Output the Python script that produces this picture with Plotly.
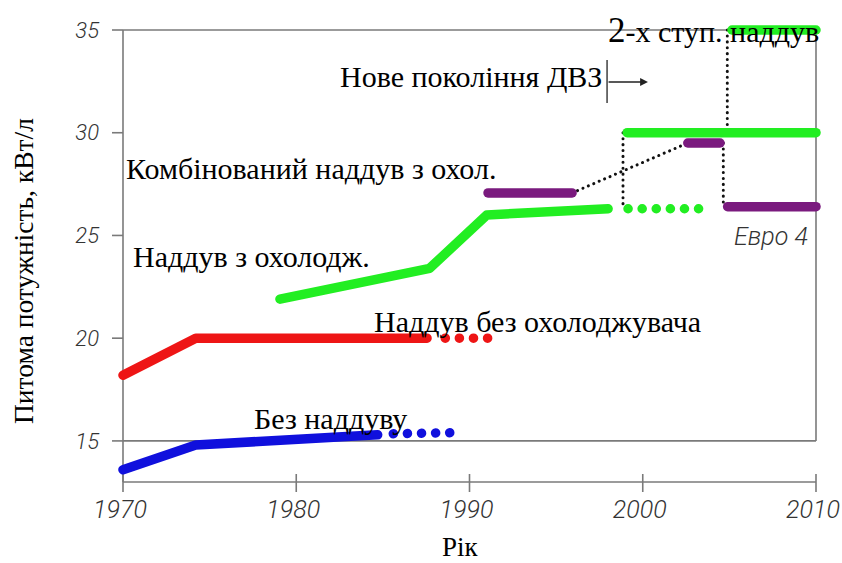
import plotly.graph_objects as go

# ---------------- data ----------------
year_ticks = [1970, 1980, 1990, 2000, 2010]
power_ticks = [15, 20, 25, 30, 35]

# Без наддуву (blue)
nat_x = [1970, 1974.2, 1984.7]
nat_y = [13.6, 14.8, 15.3]
nat_dot_x = [1985.6, 1989.2]
nat_dot_y = [15.35, 15.4]

# Наддув без охолоджувача (red)
tc_x = [1970, 1974.2, 1987.55]
tc_y = [18.2, 20.0, 20.0]
tc_dot_x = [1988.6, 1991.1]
tc_dot_y = [20.0, 20.0]

# Наддув з охолодж. (green)
ic_x = [1979.06, 1987.7, 1991.0, 1998.0]
ic_y = [21.9, 23.4, 26.0, 26.3]
ic_dot_x = [1999.15, 2003.95]
ic_dot_y = [26.3, 26.3]

# Нове покоління: green 30 level and 2-stage 35 level
new_x = [1999.1, 2010]
new_y = [30.0, 30.0]
two_x = [2005.15, 2010]
two_y = [35.0, 35.0]

# Комбінований наддув з охол. (purple)
comb1_x = [1991.07, 1995.92]
comb1_y = [27.07, 27.07]
comb2_x = [2002.6, 2004.46]
comb2_y = [29.5, 29.5]
euro_x = [2004.9, 2010]
euro_y = [26.4, 26.4]

# black dotted connectors
con1_x = [1995.92, 2002.6]
con1_y = [27.07, 29.5]
con2_x = [1998.86, 1998.86]
con2_y = [30.0, 26.3]
con3_x = [2004.65, 2004.65]
con3_y = [29.5, 26.4]
con4_x = [2004.88, 2004.88]
con4_y = [35.0, 30.0]

labels = ["Нове покоління ДВЗ", "Комбінований наддув з охол.", "Наддув з охолодж.",
          "Наддув без охолоджувача", "Без наддуву", "2-х ступ. наддув", "Евро 4"]

# ---------------- layout geometry ----------------
W, H = 842, 563
L, R, T, B = 100, 838, 16, 492           # plot area in pixels
PX1970, PX2010 = 123, 816
PY35, PY13 = 30, 482
sx = (PX2010 - PX1970) / 40.0
sy = (PY13 - PY35) / 22.0
xr = [1970 - (PX1970 - L) / sx, 2010 + (R - PX2010) / sx]
yr = [13 - (B - PY13) / sy, 35 + (PY35 - T) / sy]

GREEN = "#22ee22"
BLUE = "#1010dd"
RED = "#ee1515"
PURPLE = "#7a1a7e"
AXC = "#7a7a7a"
SERIF = "Liberation Serif, Times New Roman, serif"
TICKF = "Roboto, Liberation Sans, sans-serif"

LW = 9.5
DOT = "0.1px,14px"
BDOT = "0.1px,5.8px"

fig = go.Figure()


def add(x, y, color, width=LW, dash="solid"):
    fig.add_trace(go.Scatter(x=x, y=y, mode="lines",
                             line=dict(color=color, width=width, dash=dash),
                             hoverinfo="skip", showlegend=False))


# black connectors first (under coloured lines)
for cx, cy in [(con1_x, con1_y), (con2_x, con2_y), (con3_x, con3_y), (con4_x, con4_y)]:
    add(cx, cy, "#111111", 3, BDOT)

add(nat_x, nat_y, BLUE)
add(nat_dot_x, nat_dot_y, BLUE, LW, DOT)
add(tc_x, tc_y, RED)
add(tc_dot_x, tc_dot_y, RED, LW, DOT)
add(ic_x, ic_y, GREEN)
add(ic_dot_x, ic_dot_y, GREEN, LW, DOT)
add(new_x, new_y, GREEN)
add(two_x, two_y, GREEN)
add(comb1_x, comb1_y, PURPLE)
add(comb2_x, comb2_y, PURPLE)
add(euro_x, euro_y, PURPLE)

# ---------------- frame / axes as shapes ----------------
shapes = []
lw_ax = 1.6
ax_line = dict(color=AXC, width=lw_ax)
shapes.append(dict(type="line", x0=1970, x1=2010, y0=35, y1=35, line=ax_line, layer="below"))
shapes.append(dict(type="line", x0=2010, x1=2010, y0=35, y1=15, line=ax_line, layer="below"))
shapes.append(dict(type="line", x0=1970, x1=2010, y0=15, y1=15, line=ax_line, layer="below"))
shapes.append(dict(type="line", x0=1970, x1=1970, y0=35, y1=13, line=ax_line, layer="below"))
shapes.append(dict(type="line", x0=1970, x1=2010, y0=13, y1=13, line=ax_line, layer="below"))
for v in power_ticks:
    shapes.append(dict(type="line", xref="x", yref="y", xsizemode="pixel", xanchor=1970,
                       x0=-11, x1=0, y0=v, y1=v, line=ax_line, layer="below"))
for v in year_ticks:
    shapes.append(dict(type="line", xref="x", yref="y", ysizemode="pixel", yanchor=13,
                       x0=v, x1=v, y0=-10, y1=8, line=ax_line, layer="below"))

# marker for "new generation": vertical bar + arrow
shapes.append(dict(type="line", x0=1997.94, x1=1997.94, y0=33.54, y1=31.45,
                   line=dict(color="#222222", width=1.3)))

annotations = [
    dict(x=2000.3, y=32.47, ax=1997.94, ay=32.47, axref="x", ayref="y", xref="x", yref="y",
         text="", showarrow=True, arrowhead=2, arrowsize=1.2, arrowwidth=1.3, arrowcolor="#222222"),
]

txt = [
    (labels[0], 1982.4, 32.72),
    (labels[1], 1970.05, 28.24),
    (labels[2], 1970.45, 23.98),
    (labels[3], 1984.35, 20.83),
    (labels[4], 1977.45, 16.1),
]
for t, x, y in txt:
    annotations.append(dict(x=x, y=y, xref="x", yref="y", text=t, showarrow=False,
                            xanchor="left", yanchor="middle",
                            font=dict(family=SERIF, size=30, color="#000000")))
annotations.append(dict(x=1997.9, y=35.0, xref="x", yref="y",
                        text="<span style='font-size:35px'>2</span>-х ступ. наддув",
                        showarrow=False, xanchor="left", yanchor="middle",
                        font=dict(family=SERIF, size=30, color="#000000")))
annotations.append(dict(x=2005.15, y=24.97, xref="x", yref="y", text=labels[6], showarrow=False,
                        xanchor="left", yanchor="middle",
                        font=dict(family=TICKF, size=25, color="#333333", style="italic", weight=300)))
# axis titles
annotations.append(dict(x=0, y=23.27, xref="paper", yref="y", xshift=-77, text="Питома потужність, кВт/л",
                        textangle=-90, showarrow=False, xanchor="center", yanchor="middle",
                        font=dict(family=SERIF, size=27.5, color="#000000")))
annotations.append(dict(x=1989.5, y=0, xref="x", yref="paper", yshift=-55, text="Рік",
                        showarrow=False, xanchor="center", yanchor="middle",
                        font=dict(family=SERIF, size=27, color="#000000")))

fig.update_layout(
    width=W, height=H, autosize=False,
    margin=dict(l=L, r=W - R, t=T, b=H - B, pad=0, autoexpand=False),
    paper_bgcolor="white", plot_bgcolor="white",
    shapes=shapes, annotations=annotations, showlegend=False,
    xaxis=dict(range=xr, tickvals=year_ticks, ticktext=[str(v) for v in year_ticks],
               showgrid=False, zeroline=False, showline=False, ticks="", ticklabeloverflow="allow",
               automargin=False, ticklabelshift=-3,
               tickfont=dict(family=TICKF, size=25, color="#333333", style="italic", weight=300),
               fixedrange=True),
    yaxis=dict(range=yr, tickvals=power_ticks, ticktext=[str(v) for v in power_ticks],
               showgrid=False, zeroline=False, showline=False, ticks="", ticklabeloverflow="allow",
               automargin=False,
               tickfont=dict(family=TICKF, size=22, color="#333333", style="italic", weight=300),
               fixedrange=True),
)

ps = ("document.body.style.margin='0';"
      "document.querySelectorAll('.scatterlayer .js-line').forEach(function(p){"
      "p.style.strokeLinecap='round';p.style.strokeLinejoin='round';});")
fig.write_html("out.html", post_script=ps, config={"displayModeBar": False, "responsive": False})
